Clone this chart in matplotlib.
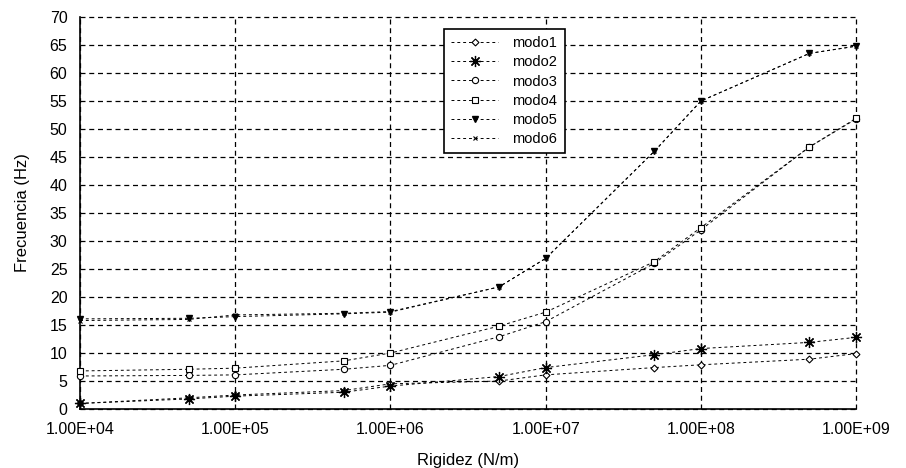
import matplotlib.pyplot as plt
from matplotlib.ticker import FixedLocator, FixedFormatter

rigidez = [1e4, 5e4, 1e5, 5e5, 1e6, 5e6, 1e7, 5e7, 1e8, 5e8, 1e9]

modo1 = [1.0, 2.0, 2.5, 3.3, 4.5, 5.0, 6.1, 7.4, 7.9, 8.9, 9.9]
modo2 = [1.0, 1.8, 2.3, 3.0, 4.1, 5.8, 7.4, 9.7, 10.8, 11.9, 12.8]
modo3 = [5.9, 6.0, 6.1, 7.1, 7.8, 12.9, 15.6, 26.0, 32.0, 46.8, 51.8]
modo4 = [6.8, 7.1, 7.3, 8.6, 10.0, 14.8, 17.3, 26.3, 32.4, 46.8, 51.9]
modo5 = [16.1, 16.2, 16.5, 17.0, 17.3, 21.8, 26.9, 46.0, 55.0, 63.5, 64.8]
modo6 = [15.8, 16.0, 16.8, 17.1, 17.4, 21.8, 26.9, 46.0, 55.0, 63.5, 64.8]

series = [modo1, modo2, modo3, modo4, modo5, modo6]
labels = ['modo1', 'modo2', 'modo3', 'modo4', 'modo5', 'modo6']
xticks = [1e4, 1e5, 1e6, 1e7, 1e8, 1e9]
xtick_labels = ['1.00E+04', '1.00E+05', '1.00E+06', '1.00E+07', '1.00E+08', '1.00E+09']

plt.rcParams['font.family'] = ['Liberation Sans', 'DejaVu Sans']

fig = plt.figure(figsize=(9.06, 4.68), dpi=100)
ax = fig.add_axes([0.0883, 0.126, 0.8567, 0.8377])

# marker style per mode
styles = [
    dict(marker='D', ms=3.5, mfc='white', mew=0.8),
    dict(marker=(8, 2, 0), ms=8, mew=0.9),
    dict(marker='o', ms=4.5, mfc='white', mew=0.8),
    dict(marker='s', ms=4.5, mfc='white', mew=0.8),
    dict(marker='v', ms=4.5, mfc='black'),
    dict(marker='x', ms=3.5, mew=0.8),
]

for ys, lab, st in zip(series, labels, styles):
    ax.plot(rigidez, ys, color='black', linestyle=(0, (3, 3)), linewidth=0.7,
            mec='black', label=lab, clip_on=False, zorder=3, **st)

ax.set_xscale('log')
ax.set_xlim(1e4, 1e9)
ax.set_ylim(0, 70)
ax.xaxis.set_major_locator(FixedLocator(xticks))
ax.xaxis.set_major_formatter(FixedFormatter(xtick_labels))
ax.xaxis.set_minor_locator(FixedLocator([]))
ax.set_yticks(range(0, 71, 5))

ax.grid(True, which='major', color='black', linestyle=(0, (4, 3)), linewidth=0.9)
ax.set_axisbelow(True)
for s in ['top', 'right']:
    ax.spines[s].set_visible(False)
for s in ['left', 'bottom']:
    ax.spines[s].set_linewidth(1.2)
ax.tick_params(axis='x', length=0, labelsize=11.5, pad=9)
ax.tick_params(axis='y', length=0, labelsize=11.5, pad=9)

# grid lines at the upper and right limits
for gl in ax.get_ygridlines() + ax.get_xgridlines():
    gl.set_clip_on(False)

ax.set_xlabel('Rigidez (N/m)', fontsize=12, labelpad=12)
ax.set_ylabel('Frecuencia (Hz)', fontsize=12, labelpad=14)

leg = ax.legend(loc='upper left', bbox_to_anchor=(0.49, 0.938), bbox_transform=fig.transFigure,
                fontsize=10.5, frameon=True, fancybox=False, edgecolor='black',
                handlelength=3.2, handletextpad=1.0, labelspacing=0.35, borderpad=0.5,
                borderaxespad=0)
leg.get_frame().set_linewidth(1.2)
leg.get_frame().set_alpha(1)

fig.savefig('out.png', dpi=100)
